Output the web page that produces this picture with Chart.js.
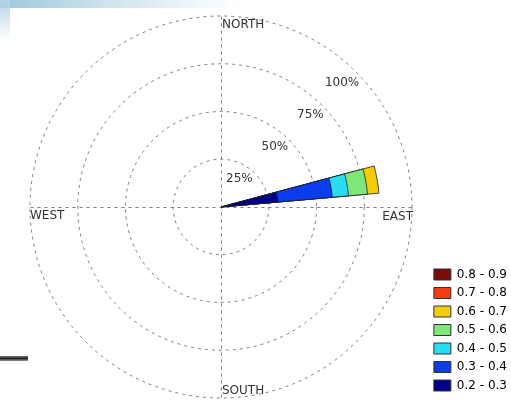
<!DOCTYPE html>
<html>
<head>
<meta charset="utf-8">
<script src="https://cdn.jsdelivr.net/npm/chart.js@4/dist/chart.umd.min.js"></script>
<style>
  html, body { margin: 0; padding: 0; background: #fff; }
  #wrap { position: relative; width: 511px; height: 414px; overflow: hidden; }
  #wrap canvas { position: absolute; left: 0; top: 0; }
  /* bits of the screenshot it was cut from */
  .edge-top { position: absolute; left: 0; top: 0; width: 240px; height: 8px;
              background: linear-gradient(to right, #9cc8dc, #cfe4ee 45%, rgba(255,255,255,0)); }
  .edge-left { position: absolute; left: 0; top: 0; width: 10px; height: 40px;
               background: linear-gradient(to bottom, #b4d4e4, rgba(255,255,255,0)); }
  .edge-bar { position: absolute; left: 0; top: 356px; width: 28px; height: 5px;
              background: linear-gradient(to bottom, #777, #222 50%, #999); }
</style>
</head>
<body>
<div id="wrap">
  <canvas id="rose" width="521" height="414"></canvas>
  <div class="edge-top"></div><div class="edge-left"></div><div class="edge-bar"></div>
</div>
<script>
// direction bins, degrees clockwise from north (10 deg wide, centred on the value)
const bearings = [0, 10, 20, 30, 40, 50, 60, 70, 80, 90, 100, 110, 120, 130, 140, 150, 160, 170,
                  180, 190, 200, 210, 220, 230, 240, 250, 260, 270, 280, 290, 300, 310, 320, 330, 340, 350];

// speed classes, lowest first
const speedClasses = ['0.2 - 0.3', '0.3 - 0.4', '0.4 - 0.5', '0.5 - 0.6', '0.6 - 0.7', '0.7 - 0.8', '0.8 - 0.9'];
const classColors  = ['#00008a', '#0a3cf0', '#28dcf2', '#7ee67a', '#f5cc0a', '#f23c14', '#7a0c0c'];

// all the wind comes from one bin
const windBearing = 80;
// % of time in each speed class for that bin
const classPercent = [30, 28.5, 8.5, 10, 6, 0, 0];

// rings and their labels
const ringValues = [25, 50, 75, 100];
const compassNames = ['NORTH', 'EAST', 'SOUTH', 'WEST'];

// polarArea can't stack, so each class is drawn as a wedge out to its cumulative total.
// first dataset is painted last, so the small inner ones sit on top.
let running = 0;
const datasets = speedClasses.map((name, k) => {
  running += classPercent[k];
  const total = running;
  return {
    label: name,
    data: bearings.map(b => (b === windBearing && classPercent[k] > 0) ? total : 0),
    backgroundColor: classColors[k],
    borderColor: '#1e1e1e',
    borderWidth: c => c.raw > 0 ? 0.8 : 0
  };
});

const textFont = '12px "DejaVu Sans", sans-serif';
const dashColor = '#7c7c7c';

const compassPlugin = {
  id: 'compass',
  beforeDatasetsDraw(chart) {
    const r = chart.scales.r;
    const ctx = chart.ctx;
    const R = r.getDistanceFromCenterForValue(r.max);
    const cx = r.xCenter + 0.5, cy = r.yCenter + 0.5;
    ctx.save();
    ctx.strokeStyle = dashColor;
    ctx.lineWidth = 1;
    ctx.setLineDash([3, 4]);
    ctx.beginPath();
    ctx.moveTo(cx, cy - R); ctx.lineTo(cx, cy + R);
    ctx.moveTo(cx - R, cy); ctx.lineTo(cx + R, cy);
    ctx.stroke();
    ctx.restore();
  },
  afterDatasetsDraw(chart) {
    const r = chart.scales.r;
    const ctx = chart.ctx;
    const R = r.getDistanceFromCenterForValue(r.max);
    const cx = r.xCenter, cy = r.yCenter;
    ctx.save();
    ctx.font = textFont;
    ctx.fillStyle = '#333';
    ctx.textBaseline = 'middle';

    // ring percentages, along a line ~42 deg above east
    const a = -42 * Math.PI / 180;
    ctx.textAlign = 'right';
    ringValues.forEach(v => {
      const d = r.getDistanceFromCenterForValue(v) - 5;
      ctx.fillText(v + '%', cx + d * Math.cos(a), cy + d * Math.sin(a));
    });

    // compass words sit just inside the outer ring
    ctx.textAlign = 'left';
    ctx.fillText(compassNames[0], cx + 1, cy - R + 9);
    ctx.fillText(compassNames[2], cx + 1, cy + R - 7);
    ctx.fillText(compassNames[3], cx - R, cy + 9);
    ctx.textAlign = 'right';
    ctx.fillText(compassNames[1], cx + R + 1, cy + 10);
    ctx.restore();
  }
};

new Chart(document.getElementById('rose'), {
  type: 'polarArea',
  data: { labels: bearings.map(b => b + '°'), datasets: datasets },
  options: {
    responsive: false,
    animation: false,
    layout: { padding: { left: 16, top: 16, bottom: 16, right: 4 } },
    scales: {
      r: {
        min: 0,
        max: 100,
        startAngle: -5,
        ticks: { display: false, stepSize: 25 },
        grid: { color: dashColor, lineWidth: 1, circular: true },
        border: { dash: [3, 4] },
        angleLines: { display: false },
        pointLabels: { display: false }
      }
    },
    plugins: {
      tooltip: { enabled: false },
      legend: {
        position: 'right',
        align: 'end',
        labels: {
          boxWidth: 17,
          boxHeight: 11,
          padding: 6.5,
          color: '#555',
          font: { family: '"DejaVu Sans", sans-serif', size: 12 },
          generateLabels: chart => chart.data.datasets.map((ds, i) => ({
            text: ds.label,
            fillStyle: ds.backgroundColor,
            strokeStyle: '#333',
            lineWidth: 1,
            datasetIndex: i
          })).reverse()
        }
      }
    }
  },
  plugins: [compassPlugin]
});
</script>
</body>
</html>
